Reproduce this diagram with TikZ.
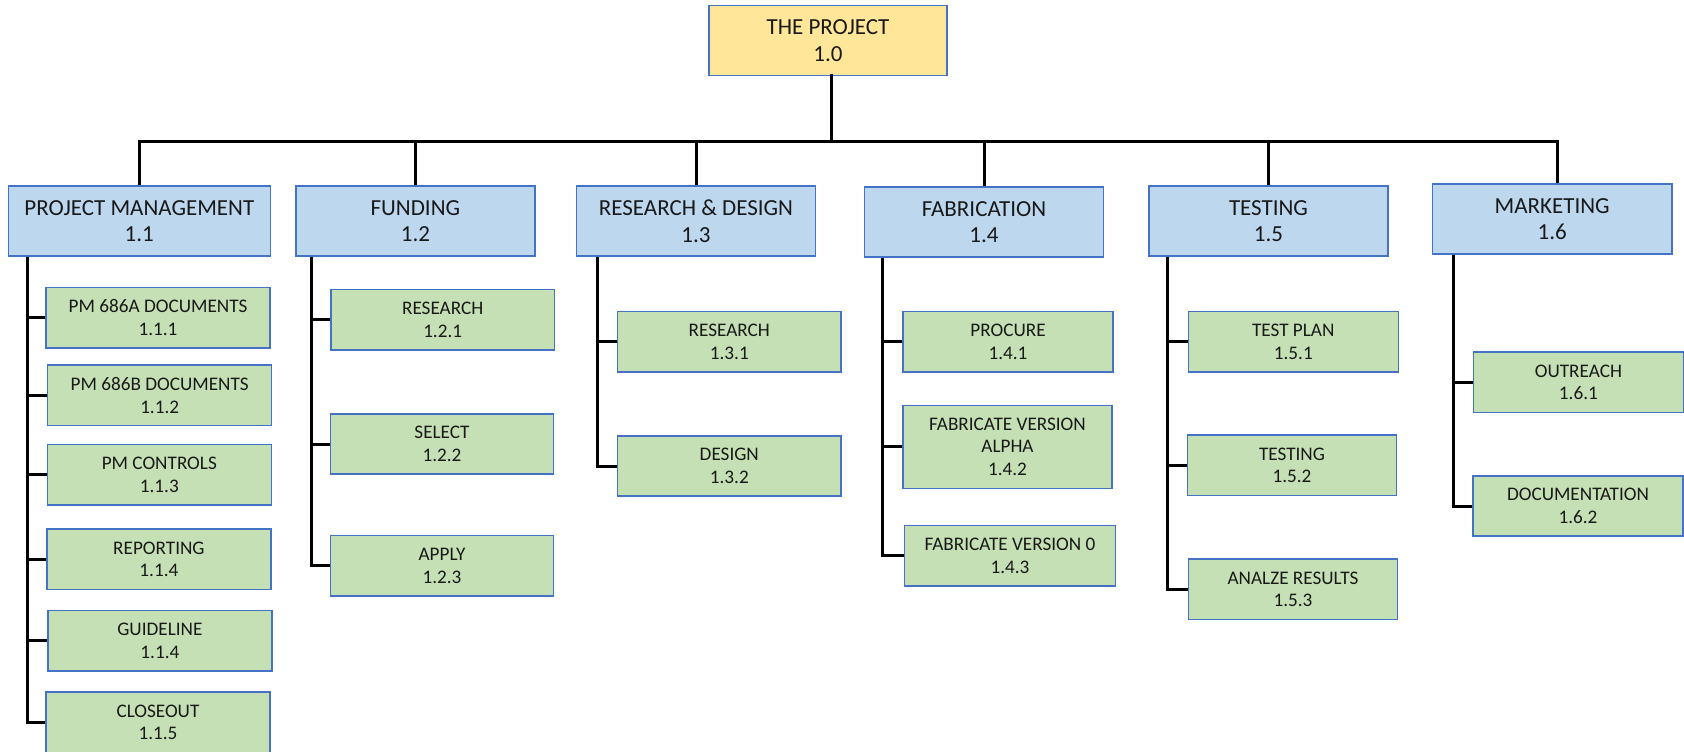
\documentclass[tikz,border=0pt]{standalone}
\usepackage{fontspec}
\setmainfont{Carlito}
\definecolor{rootfill}{HTML}{FFE699}
\definecolor{areafill}{HTML}{BDD7EE}
\definecolor{taskfill}{HTML}{C5E0B4}
\definecolor{edgeblue}{HTML}{4472C4}
\begin{document}
\begin{tikzpicture}[x=1pt,y=-1pt,
  box/.style={draw=edgeblue, line width=1.5pt, align=center, inner sep=0pt, text=black!90},
  rootbox/.style={box, fill=rootfill, minimum width=238pt, minimum height=70pt,
    font=\fontsize{23}{26.7}\selectfont},
  areabox/.style={box, fill=areafill, minimum width=239.3pt, minimum height=70pt,
    font=\fontsize{23}{26.7}\selectfont},
  taskbox/.style={box, fill=taskfill, minimum width=224pt, minimum height=60.3pt,
    font=\fontsize{19.2}{22.7}\selectfont},
  wire/.style={line width=3pt, draw=black}]
\useasboundingbox (0,0) rectangle (1684,752);

% top of the breakdown
\node[rootbox] (root) at (828,40.3) {THE PROJECT\\1.0};

% work areas
\node[areabox, minimum width=262pt] (pm) at (139.3,221.2) {PROJECT MANAGEMENT\\1.1};
\node[areabox] (fund) at (415.4,221.2) {FUNDING\\1.2};
\node[areabox] (rd)   at (696,221)     {RESEARCH \& DESIGN\\1.3};
\node[areabox] (fab)  at (984,222.2)   {FABRICATION\\1.4};
\node[areabox] (test) at (1268.5,221.2){TESTING\\1.5};
\node[areabox] (mkt)  at (1552.2,219.2){MARKETING\\1.6};

% project management tasks
\node[taskbox] (t111) at (158,317.7)   {PM 686A DOCUMENTS\\1.1.1};
\node[taskbox] (t112) at (159.7,395.3) {PM 686B DOCUMENTS\\1.1.2};
\node[taskbox] (t113) at (159.3,474.8) {PM CONTROLS\\1.1.3};
\node[taskbox] (t114) at (158.9,559.3) {REPORTING\\1.1.4};
\node[taskbox] (t114g) at (159.9,640.7){GUIDELINE\\1.1.4};
\node[taskbox] (t115) at (158,722.2)   {CLOSEOUT\\1.1.5};

% funding tasks
\node[taskbox, minimum width=223.3pt] (t121) at (442.7,319.8) {RESEARCH\\1.2.1};
\node[taskbox, minimum width=223.3pt] (t122) at (442,444)     {SELECT\\1.2.2};
\node[taskbox, minimum width=223.3pt] (t123) at (442,565.7)   {APPLY\\1.2.3};

% research and design tasks
\node[taskbox, minimum width=223.5pt] (t131) at (729.3,341.8) {RESEARCH\\1.3.1};
\node[taskbox, minimum width=223.5pt] (t132) at (729.3,466)   {DESIGN\\1.3.2};

% fabrication tasks
\node[taskbox, minimum width=210pt] (t141) at (1008,341.8)  {PROCURE\\1.4.1};
\node[taskbox, minimum width=209pt, minimum height=83pt] (t142) at (1007.5,446.8)
  {FABRICATE VERSION\\ALPHA\\1.4.2};
\node[taskbox, minimum width=210.8pt] (t143) at (1010,555.7) {FABRICATE VERSION 0\\1.4.3};

% testing tasks
\node[taskbox, minimum width=210pt] (t151) at (1293.3,341.8) {TEST PLAN\\1.5.1};
\node[taskbox, minimum width=209.3pt] (t152) at (1292,465.3) {TESTING\\1.5.2};
\node[taskbox, minimum width=209.4pt] (t153) at (1293,589.2) {ANALZE RESULTS\\1.5.3};

% marketing tasks
\node[taskbox, minimum width=209.7pt] (t161) at (1578.4,382.2) {OUTREACH\\1.6.1};
\node[taskbox, minimum width=210pt] (t162) at (1578,506)       {DOCUMENTATION\\1.6.2};

% bus from the project to the work areas
\coordinate (bus) at (0,141);
\draw[wire] ([xshift=3.4pt,yshift=2.5pt]root.south) -- ([xshift=3.4pt]root.south |- bus);
\draw[wire] (pm.north) |- ([xshift=4.8pt]mkt.north |- bus) -- ([xshift=4.8pt]mkt.north);
\foreach \a in {fund,rd,fab,test}
  \draw[wire] (\a.north) -- (\a.north |- bus);

% stems from each work area to its tasks
\foreach \p/\off/\kids in {pm/19.7/{t111,t112,t113,t114,t114g,t115},
                          fund/16.1/{t121,t122,t123},
                          rd/22.2/{t131,t132},
                          fab/18.9/{t141,t142,t143},
                          test/19.8/{t151,t152,t153},
                          mkt/21.2/{t161,t162}}
  \foreach \k in \kids
    \draw[wire] ([xshift=\off pt]\p.south west) |- (\k.west);
\end{tikzpicture}
\end{document}
